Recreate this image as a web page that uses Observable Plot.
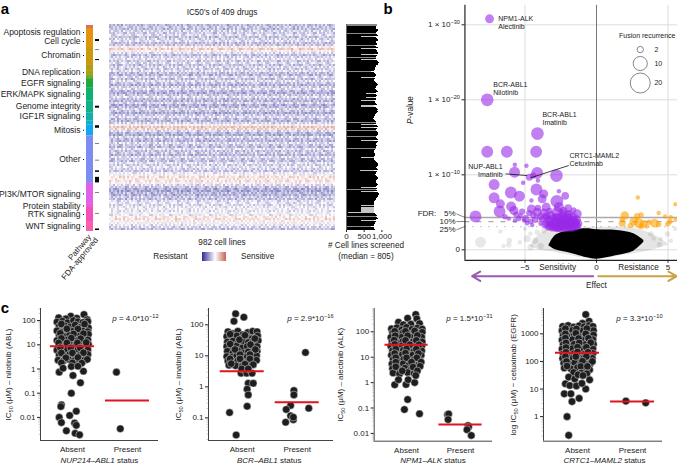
<!DOCTYPE html>
<html><head><meta charset="utf-8">
<script src="https://cdn.jsdelivr.net/npm/d3@7"></script>
<script src="https://cdn.jsdelivr.net/npm/@observablehq/plot@0.6"></script>
<style>
html,body{margin:0;padding:0;background:#fff}
#fig{position:relative;width:677px;height:465px;overflow:hidden;font-family:"Liberation Sans",Arial,sans-serif;color:#222}
#fig svg{position:absolute}
.t{position:absolute;white-space:nowrap;line-height:1}
</style></head><body><div id="fig"></div>
<script>
// ---------- panel a ----------
const pathwayNames=["","Apoptosis regulation","Cell cycle","Chromatin","","DNA replication","","EGFR signaling","ERK/MAPK signaling","Genome integrity","IGF1R signaling","","Mitosis","Other","PI3K/MTOR signaling","Protein stability","RTK signaling","WNT signaling"];
const pathwayCounts=[6,16,20,36,12,8,8,18,26,24,16,8,22,95,42,6,28,20];
const pathwayColors=["#e0705a","#e8920c","#df960e","#c99a10","#b59c12","#a8a014","#80a61c","#20a83c","#10b070","#10b088","#10b0a8","#10aecb","#10a8ee","#7c8cf0","#e060e8","#ec58d0","#f550b8","#fb60a8"];
const fdaStart=[28,49,68,161,200,236,269,290,303,334,375,406];
const fdaSpan=[4,1,2,4,5,1,1,3,11,1,1,3];
const heatRows=[-.32,-.26,-.3,-.2,-.24,-.16,-.28,-.2,-.16,-.3,-.26,.08,.26,.1,-.14,-.3,-.2,-.12,-.26,-.16,-.28,-.18,-.24,-.14,-.3,-.34,-.16,-.3,-.16,-.26,-.36,-.22,-.16,-.32,-.38,-.26,-.14,-.3,-.34,-.2,-.38,-.32,-.18,-.28,-.4,-.24,-.16,-.3,-.34,-.2,.04,.3,.24,-.18,-.34,-.38,-.18,-.3,-.34,-.16,-.26,-.32,-.14,-.28,-.24,-.34,-.16,-.26,-.3,-.14,-.22,-.12,-.2,-.26,-.1,.02,.18,.1,.16,.06,-.16,-.28,-.38,-.42,-.32,-.36,-.24,-.3,-.16,-.12,-.18,-.1,-.06,-.12,0,-.08,.12,.18,.08,.02,-.1,-.2,-.3];
const heatCols=[.04,-.04,.02,.1,-.06,.08,0,.14,-.02,.06,.16,-.08,.04,.1,.02,-.06,.12,.05,-.04,.18,.02,-.08,.06,.12,-.02,.08,.2,-.04,.03,.12,-.06,.06,.02,.16,-.02,.1,-.06,.04,.14,.02,-.04,.08,.2,.02,-.08,.06,.12,0,.05,.18,-.04,.08,.02,-.06,.12,.04,.16,-.02,.06,-.08,.1,.02,.14,-.04,.06,.18,.02,-.06,.1,.04,.14,-.02,.08,.2,.02,.06,.12,.03,-.05,.11,.01,.07,-.03,.15,.02,-.07,.09,.04,.13,-.01,.06,.17,-.04,.08,0,.12,-.06,.05,.1,.02,.14,-.03,.07,.01,.16,-.05,.09,.03,.12,0,.06,-.02,.1];
const heatTexture=[
"3728150946273816059437281659024738162950473816295047261839504726183950472618395047261738290561748293056174829305617",
"8152946037281569403728156940372851694037285169403728516940372951684037295168403729516840372951684037295168493071625",
"4061837295406183729540618372954061738295406173829540617382954071638295407163829540716382954071638295407163829530716",
"6293047185629304718562930471856293147085629314708562931470856293147085629314708562931470856293147085629314708519283",
"2847501936284750193628475019362847601935284760193528476019352847601935284760193528476019352847601935284760193564738",
"7516392048751639204875163920487516392048751639204875163920487516492038751649203875164920387516492038751649203802914",
"0395728164039572816403957281640395728164039672815403967281540396728154039672815403967281540396728154039672815465172"];
const screened=[880,880,850,840,860,890,900,870,850,850,880,900,420,860,880,910,890,860,850,870,
880,830,860,890,420,850,870,880,910,900,420,880,860,850,840,420,870,900,930,910,
890,860,840,820,810,830,800,720,790,820,840,860,830,420,810,790,800,830,860,880,
900,880,860,840,830,850,870,890,860,560,850,880,860,560,840,860,420,830,810,850,
870,420,420,850,870,890,880,900,870,850,830,820,790,780,770,800,820,850,840,860,
420,880,900,420,870,860,840,880,890,910,890,870,850,860,880,900,420,890,870,850,
860,880,860,840,850,820,800,790,800,820,830,810,800,420,790,800,830,860,880,900,
910,890,870,850,870,890,400,880,860,840,830,850,870,890,910,880,860,840,850,870,
890,880,860,420,870,850,880,420,900,920,930,910,890,880,860,840,820,800,790,780,
800,420,790,420,420,420,420,420,50,830,860,880,850,870,890,860,420,850,830,810,
800,790,720,790,800,810];
const screenedGrayRows=[0,1,9,21,33,47,98,106,112,124,165,192,202];
const screenedTicks=[0,500,1000];
const sensitivityLevels=[-1,-.92,-.84,-.76,-.68,-.6,-.52,-.44,-.36,-.28,-.2,-.12,-.04,.04,.12,.2,.28,.36,.44,.52,.6,.68,.76,.84];
// ---------- panel b ----------
const fusionHits=[[-7.48,30.8,4],[-7.64,20,8],[-4.13,15.5,8],[-7.64,13.07,7],[-6.27,13.07,7],[-4.22,13.07,7]];
const sensitiveHits=[[-5.71,11.33,1],[-4.9,11.2,1],[-5.73,10.35,6],[-4.15,10.26,7],[-2.8,9.9,8],[-4.69,9.68,2.5],[-4.43,9.9,2],[-5.13,8.93,1],[-4.1,9.24,1],[-7.16,8.7,6],[-5.99,7.64,7],[-5.39,7.15,6],[-4.2,8.04,7],[-7.16,6.93,6],[-6.72,6.13,4],[-6.78,5.11,7],[-8.46,4.44,7],[-5.97,5.77,5],[-5.78,5.24,4],[-4.55,6.57,1],[-3.69,7.46,4],[-3.8,6.8,4],[-2.63,7.82,1],[-2.19,7.2,3],[-2.77,6.48,8],[-1.98,5.55,3],[-4.55,5.46,4],[-4.15,5,4],[-3.52,5.7,4],[-2.63,5.7,5],[-2.75,5,6],[-3.22,4.57,4],[-1.34,4.8,4],[-6.13,4.16,1],[-5.43,4.16,1.5],[-4.97,4.16,2.5],[-3.92,4.39,2.5],[-4.85,3.55,1],[-5.31,4.57,1],[-3.92,3.46,1],[-4.4,4.6,2],[-5.05,3.9,1],[-4.5,3.3,1],
[-5.6,4.7,2],[-5.2,5.1,2],[-4.7,4.9,2],[-4.3,4,2],[-4.1,5.6,2],[-3.7,5,3],[-3.5,4.5,3],[-3.8,4.1,2],[-4.6,3.8,1.5],[-5.7,3.9,1],[-6.4,4.4,1.5],[-3.3,5.2,2],[-2.3,5.2,3],[-1.9,4.8,3],[-1.6,5.3,1.5],
[-3.6,3.4,3],[-3.4,3,2],[-3.3,3.9,4],[-3.1,3.3,4],[-3,4.3,3],[-2.9,3,3],[-2.85,3.7,5],[-2.7,3.2,5],[-2.6,4.1,6],[-2.5,3.5,6],[-2.45,3,4],[-2.35,4.5,4],[-2.3,3.8,6],[-2.2,3.2,5],[-2.1,3.6,6],[-2.05,4.2,5],[-1.95,3,4],[-1.9,3.5,5],[-1.8,3.9,4],[-1.7,3.2,4],[-1.65,4.4,4],[-1.55,3.6,5],[-1.45,3.1,3],[-1.4,4,4],[-1.3,3.5,4],[-3.5,4.4,2],[-2.75,2.95,4],[-2.2,2.95,4],[-1.7,2.95,3],[-3.5,3.6,3],[-3.2,3.6,3],[-2.95,3.5,4],[-2.8,4.4,3],[-2.55,3.7,5],[-2.4,3.4,5],[-2.25,4.1,4],[-2.15,3.4,4],[-2,3.9,5],[-1.85,3.2,4],[-1.75,3.6,4],[-1.6,3.9,4],[-1.5,3.4,4],[-1.35,3.2,3],[-3.25,3.1,3],[-3.05,2.95,3],[-2.6,2.95,4],[-2.4,4.9,3],[-2,4.7,3]];
const resistanceHits=[[2.89,6.97,1],[5.52,6.08,1],[1.98,4.57,3.5],[3.12,4.66,1.5],[4.35,4.92,1],[2.84,4.49,2],[4.8,4.44,1],[5.2,4.35,1],[1.8,4.1,1.5],[1.8,3.55,2.5],[2.6,3.8,3.5],[2.96,3.55,5],[3.3,3.46,3],[3.67,3.68,1.5],[4.06,3.55,4],[4.35,3.37,1.5],[5.12,3.77,1.5],[4.98,3.46,1.5],[5.52,4,1],[2.37,3.24,1.5],[3.12,3.1,1.5],[3.52,3.1,1]];
const nonSignificant=[[-8.11,1.02,6],[-6.72,2.45,1],[-6.1,1.24,1.5],[-5.36,1.02,1],[-6.5,.5,1],[-6.13,.66,1.5],[-4.85,1.46,2.5],[-4.61,.35,2],[-4.14,2.35,1.5],[4.95,2.12,1.5],[4.5,1.46,1],[5.5,2.8,1],[4,1.5,1],[3.8,2.1,1.5],[-3.68,2.57,1.5],[-4.62,2.13,1],[-5,2.8,1],[-4.3,1.2,2],[-3.9,.5,2],[4.4,.7,1.5],[5.2,1.2,1]];
const haloEffect=[-4.6,-4,-3,-2,0,2,3,4,5];
const haloUpper=[.6,2,2.9,3,3,3,2.7,2,.8];
const haloLower=[.4,0,-.3,-.7,-1.25,-.7,-.4,0,.6];
const cloudEffect=[-3.33,-2.87,-1.82,-.65,0,1.45,2.6,3.31];
const cloudUpper=[.54,1.9,2.57,2.8,2.67,2.57,2.13,1.24];
const cloudLower=[.54,0,-.45,-1.07,-1.25,-.76,-.18,1];
const fdrLevels=[4.31,3.77,3.1];
const fdrNames=["5%","10%","25%"];
const fdrLabelY=[4.8,3.77,2.67];
const pTicks=[0,10,20,30];
const pTickNames=["0","1 × 10^{−10}","1 × 10^{−20}","1 × 10^{−30}"];
const effectTicks=[-5,0,5];
const hitLabels=["NPM1-ALK\nAlectinib","BCR-ABL1\nNilotinib","BCR-ABL1\nImatinib","CRTC1-MAML2\nCetuximab"];
const hitLabelX=[-6.87,-7.22,-3.78,-1.89];
const hitLabelY=[30.3,21.53,17.5,12.08];
const recurrence=[2,10,20];
const recurrenceY=[26.7,24.84,22.24];
// ---------- panel c ----------
const nilotinibAbsent=[[-.25,130],[-.03,152],[.21,178],[.27,110],[-.12,118],[.08,125],
[-.28,88],[-.18,95],[-.09,82],[.02,100],[.1,90],[.19,84],[.28,92],
[-.24,58],[-.14,62],[-.04,55],[.05,66],[.14,52],[.24,60],[.29,50],
[-.28,38],[-.19,34],[-.09,40],[0,36],[.09,32],[.19,38],[.28,35],
[-.24,24],[-.14,22],[-.05,26],[.05,21],[.14,25],[.24,22],[.29,27],
[-.28,15],[-.19,14],[-.09,16],[0,13],[.09,15],[.19,14],[.28,16],
[-.24,10],[-.14,9.2],[-.05,10.5],[.05,8.8],[.14,9.6],[.24,9],[.29,10.5],
[-.28,6],[-.19,5.6],[-.09,6.4],[0,5.4],[.09,6],[.19,5.7],[.28,6.2],
[-.24,3.8],[-.14,3.5],[-.05,4],[.05,3.4],[.14,3.7],[.24,3.6],[.28,4],
[-.26,2.3],[-.16,2.2],[-.07,2.5],[.03,2.2],[.12,2.4],[.22,2.3],[.27,2.5],
[-.2,72],[-.1,46],[.1,45],[.22,72],[-.22,30],[.02,28],[.2,29],[-.2,18.5],[-.02,19],[.15,18],[-.25,12],[-.1,12],[.09,12],[.25,12.5],[-.22,7.6],[-.03,7.5],[.14,7.4],[-.2,4.6],[0,4.6],[.2,4.7],[-.12,2.9],[.1,3],[-.2,1.8],[0,1.8],[.17,1.75],
[-.24,.74],[-.17,1.08],[-.02,1.27],[.01,.54],[.146,.27],[.2,.81],[.1,1.3],[-.02,.1],[-.2,.033],[-.21,.028],[-.24,.01],[-.2,.0061],[-.05,.012],[.07,.018],[.04,.0058],[.07,.0047],[-.11,.0028],[.05,.0022],[.13,.0019]];
const nilotinibPresent=[[.8,.74],[.87,.0034]];
const imatinibAbsent=[[-.12,227],[.03,176],[-.15,130],
[-.26,60],[-.17,52],[-.08,62],[.01,48],[.1,56],[.19,62],[.27,60],
[-.28,42],[-.19,38],[-.1,44],[0,36],[.09,40],[.18,36],[.28,44],
[-.27,28],[-.17,30],[-.08,25],[.02,30],[.11,27],[.2,29],[.29,31],
[-.28,20],[-.19,18],[-.1,21],[0,18],[.09,20],[.18,17],[.27,20],
[-.27,14],[-.17,12.5],[-.08,14.5],[.02,12],[.11,13.5],[.2,12.5],[.27,14],
[-.28,9.5],[-.19,9],[-.1,10],[0,8.5],[.09,9.5],[.18,9],[.26,10],
[-.26,6.8],[-.17,6.2],[-.08,7],[.02,6],[.11,6.6],[.2,6.2],[.26,7.2],
[-.24,5],[-.12,4.8],[0,4.6],[.1,5.2],
[-.22,50],[-.05,33],[.05,46],[.23,36],[-.22,24],[-.13,16],[.15,23],[.24,16],[-.04,11],[.14,11],[-.22,8],[-.04,8],[.14,8],[-.2,5.6],[.05,5.4],[.2,5.2],
[-.02,2.75],[.08,2.75],[.18,2.75],[-.01,3.8],[.11,3.8],[.11,1.3],[.2,1.3],[.09,.84],[.11,.55],[.09,.236],[-.23,.148],[-.11,.028]];
const imatinibPresent=[[1.15,12.8],[.94,.76],[.94,.55],[.88,.25],[.8,.186],[.88,.117],[.93,.087],[.79,.072],[1.21,.204],[.93,.105]];
const alectinibAbsent=[[.17,480],[.19,325],[.02,343],[-.15,239],[-.06,190],[.08,200],[.24,210],
[-.28,130],[-.18,145],[-.09,120],[0,150],[.1,125],[.2,140],[.29,128],
[-.26,90],[-.16,82],[-.06,95],[.05,80],[.14,92],[.24,84],[.29,96],
[-.29,60],[-.19,54],[-.09,62],[.01,52],[.1,60],[.19,55],[.28,62],
[-.27,40],[-.17,36],[-.07,42],[.03,35],[.12,40],[.22,37],[.29,40],
[-.29,27],[-.19,24],[-.09,28],[.01,23],[.1,27],[.19,24],[.28,27],
[-.26,18],[-.16,16],[-.06,19],[.05,15.5],[.14,18],[.24,16],[.28,18],
[-.28,12],[-.18,11],[-.08,12.5],[.02,10.5],[.11,12],[.2,10.8],[.27,12],
[-.25,8],[-.15,7.4],[-.05,8.4],[.05,7.2],[.14,8],[.24,7.5],
[-.27,5.4],[-.17,5],[-.06,5.6],[.04,4.8],[.13,5.3],[.22,4.9],
[-.26,3.6],[-.15,3.3],[-.03,3.7],[.08,3.2],[.19,3.5],
[-.25,2.4],[-.13,2.2],[.02,2.5],[.14,2.3],
[-.22,105],[-.02,105],[.15,108],[-.21,70],[.02,70],[.2,72],[-.23,47],[-.02,46],[.18,46],[-.22,32],[.06,31],[.23,31],[-.2,21],[0,21],[.18,21],[-.22,14],[-.02,14.5],[.22,14],[-.2,9.6],[0,9.5],[.19,9.5],[-.2,6.4],[.09,6.4],[.27,6.4],[-.2,4.2],[.12,4.1],[.25,4.4],[-.08,2.9],[.2,2.9],
[-.22,.82],[-.15,1.3],[-.01,.84],[.03,1.3],[.15,1],[.17,1.9],[.02,.216],[-.04,.087],[.24,.059]];
const alectinibPresent=[[.76,.055],[.78,.058],[.77,.035],[1.14,.0204],[1.15,.018],[1.12,.014],[1.2,.0083]];
const cetuximabAbsent=[[.15,5000],[.21,2860],[.09,2400],
[-.27,1850],[-.17,2000],[-.07,1750],[.03,1950],[.12,1800],[.21,2000],[.28,1850],
[-.28,1300],[-.19,1180],[-.09,1350],[.01,1150],[.1,1300],[.19,1200],[.29,1320],
[-.26,880],[-.16,800],[-.06,900],[.05,780],[.14,880],[.23,810],[.29,900],
[-.28,600],[-.19,540],[-.09,620],[.01,530],[.1,600],[.19,550],[.28,620],
[-.26,410],[-.16,370],[-.06,420],[.05,360],[.14,410],[.23,375],[.29,420],
[-.28,280],[-.19,250],[-.09,290],[.01,245],[.1,280],[.19,255],[.28,285],
[-.26,190],[-.16,170],[-.06,195],[.05,165],[.14,190],[.23,172],[.28,195],
[-.27,128],[-.18,116],[-.08,132],[.02,112],[.11,128],[.2,116],[.27,130],
[-.25,86],[-.15,78],[-.05,90],[.05,76],[.14,86],[.23,80],
[-.24,58],[-.12,54],[0,60],[.12,55],[.22,50],
[-.22,1550],[-.02,1500],[.17,1550],[-.22,1000],[-.03,1050],[.15,1000],[-.22,700],[.02,680],[.2,690],[-.21,470],[.03,470],[.24,480],[-.21,320],[0,330],[.16,325],[-.21,215],[0,220],[.19,215],[-.22,150],[-.03,150],[.16,150],[-.2,100],[.09,102],[.27,100],[-.19,68],[.06,66],[.18,66],[-.07,40],[.07,38],[.17,36],
[-.16,27],[-.05,23],[-.22,15.5],[-.14,13.4],[-.24,6.7],[-.12,6.7],[.01,33],[.22,21.5],[.1,31],[.15,10],[.03,4.6],[-.1,3.5],[-.02,13],[.08,16],[-.19,1],[-.16,.21]];
const cetuximabPresent=[[.88,3.65],[1.24,3.16]];
const presenceNames=["Absent","Present"];
const medians={nilotinib:[8.8,.05],imatinib:[3.16,.316],alectinib:[31,.0224],cetuximab:[205,3.5]};

const FONT='"Liberation Sans",Arial,sans-serif', INK="#222";
const fig=document.getElementById("fig");
const baseStyle={background:"none",overflow:"visible",fontFamily:FONT,color:INK};
function rich(svg){
  svg.querySelectorAll("text,tspan").forEach(n=>{
    if(n.children.length||!/[\^_~]\{/.test(n.textContent))return;
    const parts=n.textContent.split(/([\^_~]\{[^}]*\})/);n.textContent="";
    let shift=0;
    for(const p of parts){ if(!p)continue;
      const s=document.createElementNS("http://www.w3.org/2000/svg","tspan");
      const m=p.match(/^([\^_~])\{(.*)\}$/);
      let want=0;
      if(m){s.textContent=m[2];
        if(m[1]==="~")s.setAttribute("font-style","italic");
        else{want=m[1]==="^"?-3:2;s.setAttribute("font-size","70%");}
      } else s.textContent=p;
      if(want!==shift)s.setAttribute("dy",want-shift);
      shift=want;n.appendChild(s);
    }
  });
}
function place(svg,left,top){svg.style.left=left+"px";svg.style.top=top+"px";rich(svg);fig.appendChild(svg);}
function label(html,x,y,o={}){
  const d=document.createElement("div");d.className="t";d.innerHTML=html;
  const ax=o.anchor==="end"?"-100%":o.anchor==="start"?"0":"-50%";
  d.style.cssText+=`left:${x}px;top:${y}px;font-size:${o.size||8.2}px;transform:translate(${ax},-50%)${o.rotate?` rotate(${o.rotate}deg)`:""};`+(o.bold?"font-weight:bold;color:#000;":"");
  if(o.rotate)d.style.transformOrigin=o.anchor==="end"?"100% 50%":"50% 50%";
  fig.appendChild(d);
}

// ---- a: pathway bar ----
let acc=0;const segs=pathwayNames.map((name,i)=>{const s={name,y1:acc,y2:acc+pathwayCounts[i],color:pathwayColors[i]};acc=s.y2;return s;});
const fdaRows=fdaStart.map((s,i)=>({y1:s,y2:s+fdaSpan[i]}));
const named=segs.filter(s=>s.name);
place(Plot.plot({width:106,height:232,marginTop:25,marginBottom:1,marginLeft:86,marginRight:6,style:{...baseStyle,fontSize:"8.5px"},
  x:{type:"band",domain:["Pathway","FDA-approved"],axis:null,padding:0},
  y:{domain:[acc,0],axis:null},
  marks:[
    Plot.barY(segs,{x:()=>"Pathway",y1:"y1",y2:"y2",fill:d=>d.color,insetTop:0,insetBottom:0}),
    Plot.barY(fdaRows,{x:()=>"FDA-approved",y1:"y1",y2:"y2",fill:"#000",insetLeft:2,insetRight:1}),
    Plot.tickY(named,{x:()=>"Pathway",y:d=>(d.y1+d.y2)/2,stroke:"#000",insetLeft:-2,insetRight:10}),
    Plot.text(named,{x:()=>"Pathway",y:d=>(d.y1+d.y2)/2,text:"name",textAnchor:"end",dx:-9.5,fill:INK,fontSize:8.5})
  ]}),0,0);

// ---- a: heat map ----
const heatCells=heatRows.flatMap((r,i)=>heatCols.map((c,j)=>({i,j,v:r-.02+c*.35+(+heatTexture[i%7][(j+i*17)%115]-4.5)*.04})));
const heatColor={type:"linear",domain:[-1,1],interpolate:d3.piecewise(d3.interpolateRgb,["#38329a","#ffffff","#bc5040"])};
place(Plot.plot({width:231,height:206,margin:0,style:baseStyle,
  x:{type:"band",axis:null,padding:0},y:{type:"band",axis:null,padding:0},color:heatColor,
  marks:[Plot.cell(heatCells,{x:"j",y:"i",fill:"v",inset:0,shapeRendering:"crispEdges"})]}),106,24);
label("IC50's of 409 drugs",222,13);
label("982 cell lines",222,243);
label("Resistant",187.5,256.5,{anchor:"end"});
label("Sensitive",241,256.5,{anchor:"start"});
place(Plot.plot({width:47,height:9,margin:0,style:baseStyle,
  x:{type:"band",axis:null,padding:0},y:{axis:null},color:heatColor,
  marks:[Plot.cell(sensitivityLevels,{x:d=>d,fill:d=>d,inset:0,shapeRendering:"crispEdges"})]}),190,252);
label("Pathway",90,236,{anchor:"end",rotate:-50,size:8});
label("FDA-approved",97,239,{anchor:"end",rotate:-50,size:8});

// ---- a: cell lines screened ----
const rowsS=screened.map((v,i)=>({i,v,gray:screenedGrayRows.includes(i)}));
place(Plot.plot({width:60,height:225,marginTop:0,marginBottom:19,marginLeft:6,marginRight:18.6,style:{...baseStyle,fontSize:"8px"},
  x:{domain:[0,1000]},y:{type:"band",domain:rowsS.map(d=>d.i),axis:null,padding:0},
  marks:[
    Plot.barX(rowsS.filter(d=>d.v<600),{y:"i",x:()=>800,fill:"#c4c4c4",shapeRendering:"crispEdges",inset:0}),
    Plot.barX(rowsS,{y:"i",x:"v",fill:d=>d.gray?"#8a8a8a":"#000",shapeRendering:"crispEdges",inset:0}),
    Plot.ruleX([0],{stroke:"#666"}),
    Plot.axisX({ticks:screenedTicks,tickSize:2,tickPadding:1,label:null,fontSize:8,color:INK})
  ]}),340,24);
label("# Cell lines screened",366,246);
label("(median = 805)",366,256.5);

// ---- b: volcano ----
const toP=a=>a.map(d=>({x:d[0],y:d[1],r:d[2]}));
const xL=-9.2,xR=5.664,yB=-1.4;
const volcanoMarks=[
  Plot.ruleY(pTicks,{x1:xL,x2:xR,stroke:"#dcdcdc",strokeWidth:1}),
  Plot.ruleX([-5,5],{y1:yB,y2:32.6,stroke:"#dcdcdc",strokeWidth:1}),
  Plot.ruleX([0],{y1:yB,y2:32.6,stroke:"#777",strokeWidth:1}),
  Plot.ruleY([fdrLevels[0]],{x1:xL,x2:xR,stroke:"#aaa",strokeWidth:1.3}),
  Plot.ruleY([fdrLevels[1]],{x1:xL,x2:xR,stroke:"#aaa",strokeWidth:1.2,strokeDasharray:"5,7"}),
  Plot.ruleY([fdrLevels[2]],{x1:xL,x2:xR,stroke:"#aaa",strokeWidth:1.2,strokeDasharray:"1,7"}),
  Plot.dot(toP(nonSignificant),{x:"x",y:"y",r:"r",fill:"#000",fillOpacity:.09}),
  Plot.areaY(haloEffect.map((x,i)=>({x,a:haloUpper[i],b:haloLower[i]})),{x:"x",y1:"a",y2:"b",fill:"#000",fillOpacity:.1,curve:"catmull-rom"}),
  Plot.areaY(cloudEffect.map((x,i)=>({x,a:cloudUpper[i],b:cloudLower[i]})),{x:"x",y1:"a",y2:"b",fill:"#000",curve:"catmull-rom"}),
  Plot.dot(toP(resistanceHits),{x:"x",y:"y",r:"r",fill:"#ffa000",fillOpacity:.6}),
  Plot.dot(toP(sensitiveHits),{x:"x",y:"y",r:"r",fill:"#9a2ae8",fillOpacity:.6}),
  Plot.dot(toP(fusionHits),{x:"x",y:"y",r:"r",fill:"#9a2ae8",fillOpacity:.6}),
  Plot.ruleX([xL],{y1:yB,y2:32.6,stroke:"#222",strokeWidth:1.2}),
  Plot.ruleY([yB],{x1:xL,x2:xR,stroke:"#222",strokeWidth:1.2}),
  Plot.ruleY(pTicks,{x1:xL,x2:xL-.2,stroke:"#222"}),
  Plot.ruleX(effectTicks,{y1:yB,y2:yB-.4,stroke:"#222"}),
  Plot.text(pTicks,{x:()=>xL,y:d=>d,text:(d,i)=>pTickNames[i],textAnchor:"end",dx:-5,fontSize:8,fill:INK}),
  Plot.text(effectTicks,{x:d=>d,y:()=>-2.4,text:d=>d<0?"−"+(-d):String(d),fontSize:8,fill:INK}),
  Plot.text(["Sensitivity"],{x:()=>-2.72,y:()=>-2.4,fontSize:8.2,fill:INK}),
  Plot.text(["Resistance"],{x:()=>2.94,y:()=>-2.4,fontSize:8.2,fill:INK}),
  Plot.text(["Effect"],{x:()=>0,y:()=>-4.72,fontSize:8.2,fill:INK}),
  Plot.arrow([0],{x1:()=>-.23,x2:()=>-8.7,y1:()=>-3.52,y2:()=>-3.52,stroke:"#9b59b6",strokeWidth:2,headLength:7,bend:0}),
  Plot.arrow([0],{x1:()=>.12,x2:()=>5.6,y1:()=>-3.52,y2:()=>-3.52,stroke:"#c9a24a",strokeWidth:2,headLength:7,bend:0}),
  Plot.link(fdrNames,{x1:()=>-9.8,x2:()=>xL,y1:(d,i)=>fdrLabelY[i],y2:(d,i)=>fdrLevels[i],stroke:"#333",strokeWidth:.6}),
  Plot.text(fdrNames,{x:()=>-9.86,y:(d,i)=>fdrLabelY[i],text:d=>d,textAnchor:"end",fontSize:8,fill:INK}),
  Plot.text(["FDR:"],{x:()=>-11.2,y:()=>4.8,textAnchor:"end",fontSize:8,fill:INK}),
  Plot.text(hitLabels,{x:(d,i)=>hitLabelX[i],y:(d,i)=>hitLabelY[i],text:d=>d,textAnchor:"start",fontSize:7,lineHeight:1.15,fill:INK}),
  Plot.text(["NUP-ABL1\nImatinib"],{x:()=>-6.57,y:()=>10.64,text:d=>d,textAnchor:"end",fontSize:7,lineHeight:1.15,fill:INK}),
  Plot.link([0],{x1:()=>-6.36,y1:()=>10.13,x2:()=>-4.85,y2:()=>9.9,stroke:"#111",strokeWidth:.8}),
  Plot.link([0],{x1:()=>-1.94,y1:()=>11.24,x2:()=>-4.62,y2:()=>9.6,stroke:"#111",strokeWidth:.8}),
  Plot.text(["Fusion recurrence"],{x:()=>3.55,y:()=>28.55,fontSize:7,fill:INK}),
  Plot.dot(recurrence,{x:()=>3.06,y:(d,i)=>recurrenceY[i],r:d=>d,fill:"none",stroke:"#555",strokeWidth:.7}),
  Plot.text(recurrence,{x:()=>4.05,y:(d,i)=>recurrenceY[i],text:d=>String(d),textAnchor:"start",fontSize:7,fill:INK})
];
place(Plot.plot({width:277,height:292,margin:0,style:baseStyle,
  x:{domain:[-13.706,5.664],axis:null},
  y:{domain:[-5.69,33.24],axis:null},
  r:{type:"sqrt",domain:[0,20],range:[0,10]},
  marks:volcanoMarks}),400,0);
label("<i>P</i>-value",411,110,{rotate:-90});

// ---- c: strip plots ----
const stripPanels=[
 {left:0,width:170,mL:40,mR:12,mB:25,dx:[-.58,1.564],dy:[.00111,316],abs:nilotinibAbsent,pre:nilotinibPresent,med:medians.nilotinib,ticks:[.01,.1,1,10,100],tf:["0.01","0.1","1","10","100"],yl:"IC_{50} (μM) – nilotinib (ABL)",lx:8,xl:"~{NUP214–ABL1} status",p:"~{p} = 4.0*10^{−12}"},
 {left:170,width:170,mL:38,mR:7,mB:25,dx:[-.613,1.66],dy:[.0186,336],abs:imatinibAbsent,pre:imatinibPresent,med:medians.imatinib,ticks:[.1,1,10,100],tf:["0.1","1","10","100"],yl:"IC_{50} (μM) – imatinib (ABL)",lx:178,xl:"~{BCR–ABL1} status",p:"~{p} = 2.9*10^{−16}"},
 {left:340,width:170,mL:33.7,mR:18,mB:24.3,dx:[-.6,1.593],dy:[.00493,826],abs:alectinibAbsent,pre:alectinibPresent,med:medians.alectinib,ticks:[.01,.1,1,10,100],tf:["0.01","0.1","1","10","100"],yl:"IC_{50} (μM) – alectinib (ALK)",lx:340,xl:"~{NPM1–ALK} status",p:"~{p} = 1.5*10^{−31}"},
 {left:510,width:167,mL:33,mR:15,mB:24.3,dx:[-.618,1.545],dy:[.1288,8260],abs:cetuximabAbsent,pre:cetuximabPresent,med:medians.cetuximab,ticks:[1,10,100,1000],tf:["1","10","100","1000"],yl:"log IC_{50} (μM) − cetuximab (EGFR)",lx:513,xl:"~{CRTC1–MAML2} status",p:"~{p} = 3.3*10^{−10}"}
];
for(const s of stripPanels){
  const pts=[...s.abs,...s.pre].map(d=>({x:d[0],v:d[1]}));
  const minor=[];
  for(let e=Math.floor(Math.log10(s.dy[0]));e<Math.log10(s.dy[1]);e++)for(let m=2;m<10;m++){const v=m*10**e;if(v>s.dy[0]&&v<s.dy[1])minor.push(v);}
  place(Plot.plot({width:s.width,height:165,marginTop:8,marginBottom:s.mB,marginLeft:s.mL,marginRight:s.mR,style:{...baseStyle,fontSize:"8px"},
    x:{domain:s.dx},y:{type:"log",domain:s.dy},
    marks:[
      Plot.axisY({ticks:minor,tickSize:1.5,text:null,label:null,stroke:"#999",strokeWidth:.5}),
      Plot.axisY({ticks:s.ticks,tickSize:3,tickFormat:(d,i)=>s.tf[s.ticks.indexOf(d)],label:null,tickPadding:2,fontSize:8,color:INK}),
      Plot.axisX({ticks:[0,1],tickSize:0,tickPadding:6,tickFormat:d=>presenceNames[d],label:null,fontSize:8,color:INK}),
      Plot.ruleX([s.dx[0]],{stroke:"#444",strokeWidth:1}),
      Plot.ruleY([s.dy[0]],{stroke:"#444",strokeWidth:1}),
      Plot.dot(pts,{x:"x",y:"v",r:3.8,fill:"#1e1e1e",stroke:"#e4e4e4",strokeWidth:.5}),
      Plot.ruleY([s.med[0]],{x1:()=>-.4,x2:()=>.4,stroke:"#e0141c",strokeWidth:2}),
      Plot.ruleY([s.med[1]],{x1:()=>.6,x2:()=>1.4,stroke:"#e0141c",strokeWidth:2}),
      Plot.text([s.p],{frameAnchor:"top-right",text:d=>d,textAnchor:"end",lineAnchor:"middle",dy:10,fontSize:8,fill:INK}),
      Plot.text([s.yl],{frameAnchor:"left",text:d=>d,rotate:-90,textAnchor:"middle",dx:s.lx-s.left-s.mL,fontSize:8,fill:INK}),
      Plot.text([s.xl],{x:()=>.49,frameAnchor:"bottom",text:d=>d,textAnchor:"middle",lineAnchor:"middle",dy:s.mB-5,fontSize:8,fill:INK})
    ]}),s.left,300);
}
label("a",5,8,{bold:true,size:15});
label("b",388,8,{bold:true,size:15});
label("c",5,307,{bold:true,size:15});
</script></body></html>
